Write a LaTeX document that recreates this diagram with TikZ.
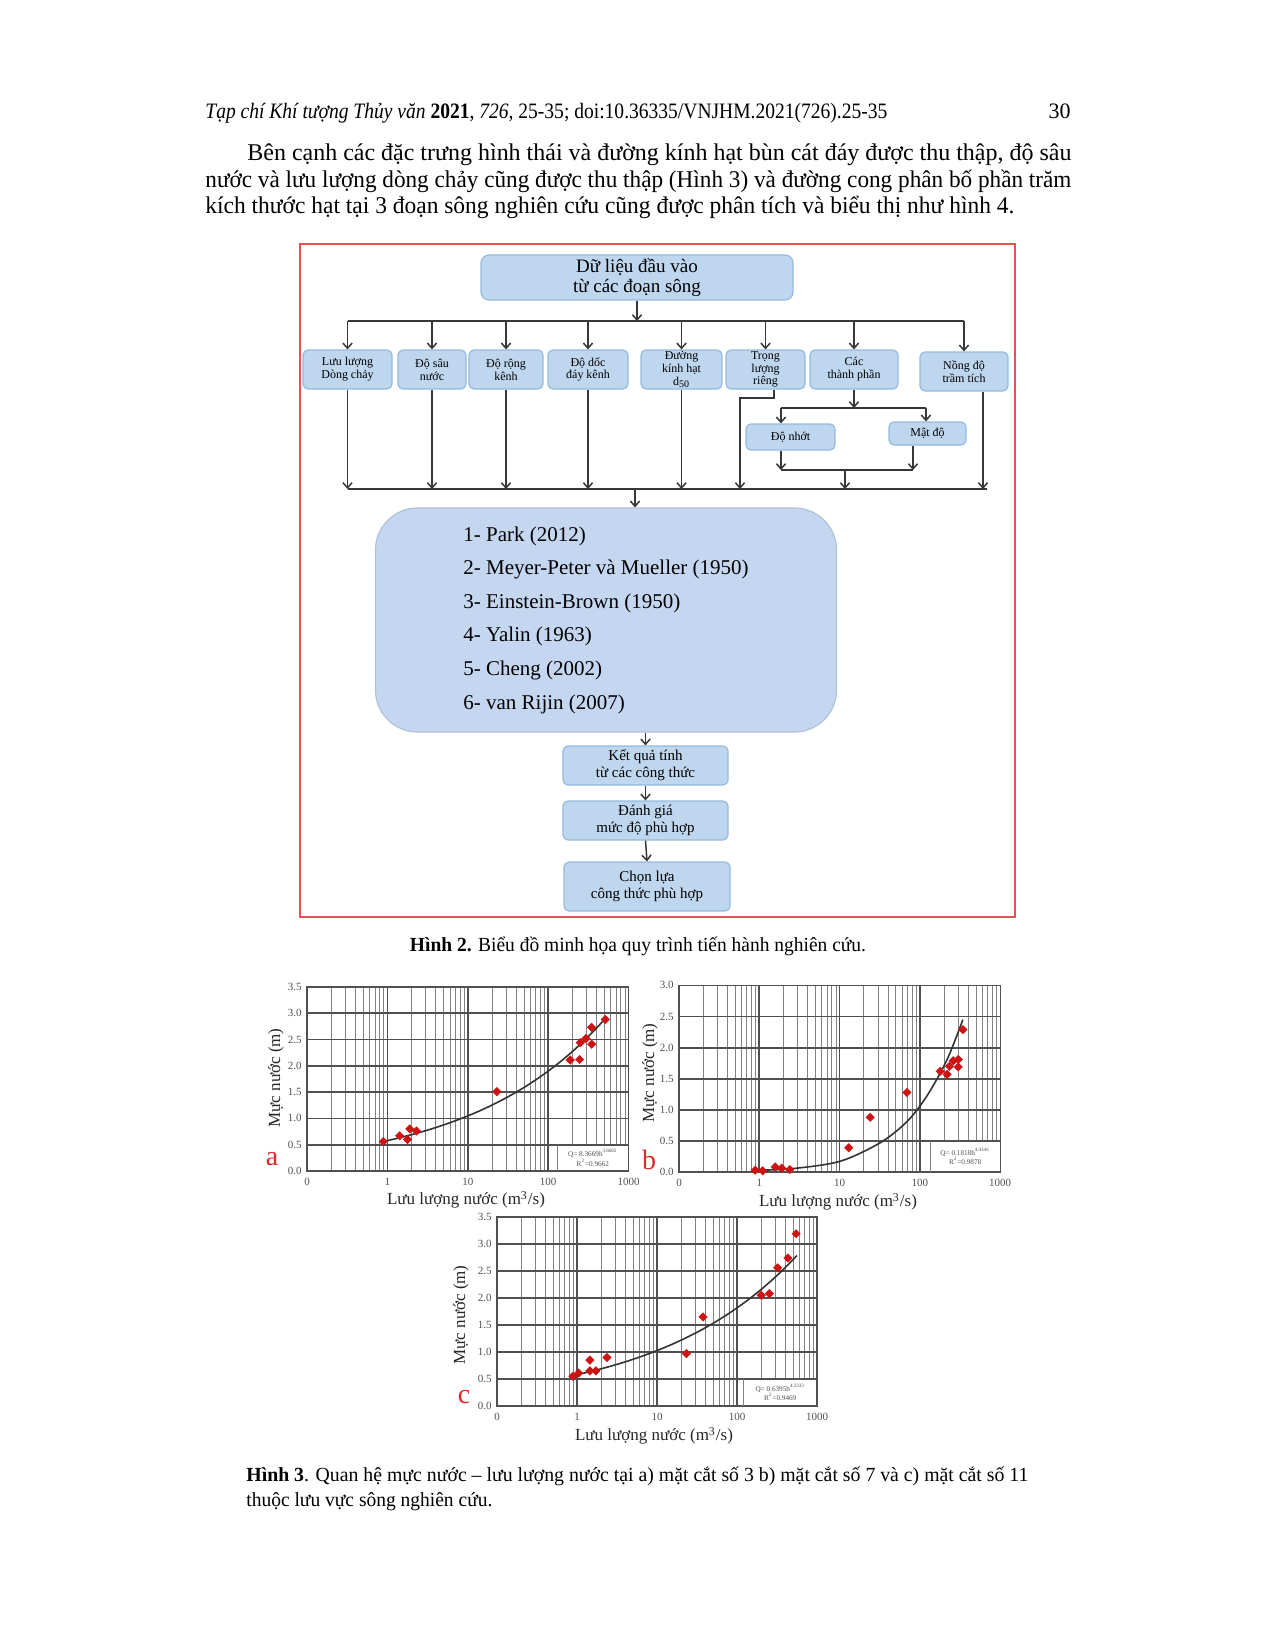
\documentclass[tikz,border=0pt]{standalone}
\usepackage{fontspec}
\setmainfont{Liberation Serif}
\usepackage{graphicx}
\usetikzlibrary{arrows.meta,calc}
\definecolor{boxfill}{RGB}{190,214,238}
\definecolor{boxdraw}{RGB}{150,186,222}
\definecolor{bigfill}{RGB}{197,214,240}
\definecolor{framered}{RGB}{228,82,82}
\definecolor{lineg}{RGB}{55,55,55}
\definecolor{ptred}{RGB}{205,20,20}
\definecolor{gridminor}{RGB}{130,130,130}
\definecolor{gridmajor}{RGB}{80,80,80}
\definecolor{tickgray}{RGB}{80,80,80}
\definecolor{letred}{RGB}{225,40,40}
\tikzset{
 fbox/.style={draw=boxdraw, fill=boxfill, rounded corners=2.5pt, align=center, inner sep=0pt, font=\fontsize{6}{6.4}\selectfont, line width=0.6pt, minimum height=19.5pt},
 ln/.style={draw=lineg, line width=0.75pt},
 arr/.style={ln, -{Straight Barb[length=2.6pt,width=4.6pt]}},
 gminor/.style={draw=gridminor, line width=0.4pt},
 gmajor/.style={draw=gridmajor, line width=0.85pt},
 ghor/.style={draw=gridmajor, line width=0.9pt},
 gframe/.style={draw=gridmajor, line width=0.7pt},
 ticklab/.style={font=\fontsize{5.5}{6}\selectfont, text=tickgray, inner sep=0pt},
 axtitle/.style={font=\fontsize{8.5}{9}\selectfont, text=black!85, inner sep=0pt},
 letlab/.style={font=\fontsize{14}{14}\selectfont, text=letred, inner sep=0pt},
 eqlab/.style={font=\fontsize{3.6}{4.6}\selectfont, text=tickgray, inner sep=0pt, align=center},
 curve/.style={draw=black!80, line width=0.8pt},
 chart/.style n args={4}{shift={({#1*0.5pt},{-#2*0.5pt})},x={({#3*0.5pt},0pt)},y={(0pt,{#4*0.5pt})}},
 txt/.style={inner sep=0pt}
}
% #1 ymax, #2 y labels, #3 name prefix
\newcommand\drawgrid[3]{%
 \foreach \d in {0,1,2,3}{\foreach \m in {2,...,9}{\draw[gminor] ({\d+log10(\m)},0) -- ({\d+log10(\m)},#1);}}
 \foreach \d in {1,2,3}{\draw[gmajor] (\d,0) -- (\d,#1);}
 \foreach \yy [count=\i] in {#2}{\draw[ghor] (0,\yy) -- (4,\yy);}
 \foreach \yy [count=\i] in {0.0,#2}{\node[ticklab,anchor=east,xshift=-2.5pt] (#3y\i) at (0,\yy) {\yy};}
 \draw[gframe] (0,0) rectangle (4,#1);
 \foreach \xx/\t in {0/0,1/1,2/10,3/100,4/1000}{\node[ticklab,anchor=north,yshift=-3.5pt] (#3x\xx) at (\xx,0) {\t};}
}
\newcommand\dmark[2]{\fill[ptred] ({log10(#1)+1},#2) ++(0,2.3pt) -- ++(2.3pt,-2.3pt) -- ++(-2.3pt,-2.3pt) -- ++(-2.3pt,2.3pt) -- cycle;}
\begin{document}
\begin{tikzpicture}[x=0.5pt,y=-0.5pt]
\fill[white] (0,0) rectangle (1274,1649);
\useasboundingbox (0,0) rectangle (1274,1649);
% header
\node[txt,anchor=base west] (hdr) at (205,118) {\resizebox{341pt}{\height}{\fontsize{11}{13}\selectfont\textit{Tạp chí Khí tượng Thủy văn} \textbf{2021}, \textit{726}, 25-35; doi:10.36335/VNJHM.2021(726).25-35}};
\node[txt,anchor=base east] (pg) at (1071,118) {\fontsize{11}{13}\selectfont 30};
% body
\node[txt,anchor=base west] (l1) at (247,160) {\resizebox{412pt}{\height}{\fontsize{12}{14}\selectfont Bên cạnh các đặc trưng hình thái và đường kính hạt bùn cát đáy được thu thập, độ sâu}};
\node[txt,anchor=base west] (l2) at (205,187) {\resizebox{433pt}{\height}{\fontsize{12}{14}\selectfont nước và lưu lượng dòng chảy cũng được thu thập (Hình 3) và đường cong phân bố phần trăm}};
\node[txt,anchor=base west] (l3) at (205,213) {\resizebox{404.5pt}{\height}{\fontsize{12}{14}\selectfont kích thước hạt tại 3 đoạn sông nghiên cứu cũng được phân tích và biểu thị như hình 4.}};
% flowchart frame
\draw[framered, line width=1pt] (300,244) rectangle (1015,917);
\node[fbox, minimum width=156pt, minimum height=22.5pt, rounded corners=4pt, font=\fontsize{9.5}{10}\selectfont] (top) at (637,277.5) {Dữ liệu đầu vào\\từ các đoạn sông};
\node[fbox, minimum width=44.5pt] (b1) at (347.5,369.5) {Lưu lượng\\Dòng chảy};
\node[fbox, minimum width=34pt] (b2) at (432,369.5) {Độ sâu\\nước};
\node[fbox, minimum width=37pt] (b3) at (506,369.5) {Độ rộng\\kênh};
\node[fbox, minimum width=40pt] (b4) at (588,369.5) {Độ dốc\\đáy kênh};
\node[fbox, minimum width=40.5pt] (b5) at (681.5,369.5) {Đường\\kính hạt\\d\textsubscript{50}};
\node[fbox, minimum width=39.5pt] (b6) at (765.5,369.5) {Trọng\\lượng\\riêng};
\node[fbox, minimum width=44pt] (b7) at (854,369.5) {Các\\thành phần};
\node[fbox, minimum width=44pt] (b8) at (964,371.5) {Nồng độ\\trầm tích};
\node[fbox, minimum width=44.5pt, minimum height=13pt] (visc) at (790.5,437) {Độ nhớt};
\node[fbox, minimum width=38.5pt, minimum height=11.5pt] (dens) at (927.5,433.5) {Mật độ};
\node[fbox, fill=bigfill, draw=bigfill!90!black, minimum width=230.5pt, minimum height=112pt, rounded corners=21pt, align=left, font=\fontsize{10.5}{16.8}\selectfont] (big) at (606,620) {1- Park (2012)\\2- Meyer-Peter và Mueller (1950)\\3- Einstein-Brown (1950)\\4- Yalin (1963)\\5- Cheng (2002)\\6- van Rijin (2007)};
\node[fbox, minimum width=82.5pt, font=\fontsize{7.5}{8.4}\selectfont] (kq) at (645.5,765.5) {Kết quả tính\\từ các công thức};
\node[fbox, minimum width=82.5pt, font=\fontsize{7.5}{8.4}\selectfont] (dg) at (645.5,820.5) {Đánh giá\\mức độ phù hợp};
\node[fbox, minimum width=83pt, minimum height=24.5pt, font=\fontsize{7.5}{8.4}\selectfont] (cl) at (647,886.5) {Chọn lựa\\công thức phù hợp};
% connectors
\coordinate (busL) at (347.5,321); \coordinate (busR) at (964,321);
\draw[ln] (busL) -- (busR);
\draw[arr] (top.south) -- (top.south |- busL);
\foreach \n in {b1,b2,b3,b4,b5,b6,b7,b8}{\draw[arr] (\n.north |- busL) -- (\n.north);}
\coordinate (bbL) at (347.5,489); \coordinate (bbR) at (987,489);
\draw[ln] (bbL) -- (bbR);
\foreach \n in {b1,b2,b3,b4,b5}{\draw[arr] (\n.south) -- (\n.south |- bbL);}
\coordinate (b8o) at ($(b8.south)+(19,0)$);
\draw[arr] (b8o) -- (b8o |- bbL);
\coordinate (b6o) at ($(b6.south)+(8.5,0)$);
\coordinate (b6k) at (740,398);
\draw[arr] (b6o) -- (b6o |- b6k) -- (b6k) -- (b6k |- bbL);
\coordinate (sL) at (781,408); \coordinate (sR) at (926,408);
\draw[arr] (b7.south) -- (b7.south |- sL);
\draw[ln] (sL) -- (sR);
\draw[arr] (sL) -- (sL |- visc.north);
\draw[arr] (sR) -- (sR |- dens.north);
\coordinate (jL) at (781,470); \coordinate (jR) at (913,470); \coordinate (jM) at (845,470);
\draw[arr] (jL |- visc.south) -- (jL);
\draw[arr] (jR |- dens.south) -- (jR);
\draw[ln] (jL) -- (jR);
\draw[arr] (jM) -- (jM |- bbL);
\coordinate (bbM) at (635,489);
\draw[arr] (bbM) -- (bbM |- big.north);
\draw[arr] (kq.north |- big.south) -- (kq.north);
\draw[arr] (kq.south) -- (dg.north);
\draw[arr] (dg.south) -- (cl.north);
% caption 2
\node[txt] (cap2) at (638,946) {\resizebox{228pt}{\height}{\fontsize{10}{12}\selectfont\textbf{Hình 2.} Biểu đồ minh họa quy trình tiến hành nghiên cứu.}};
% chart a
\begin{scope}[chart={307}{1171}{80.4}{52.6}]
 \drawgrid{3.5}{0.5,1.0,1.5,2.0,2.5,3.0,3.5}{a}
 \fill[white] (3.11,0.02) rectangle (3.99,0.48);
 \draw[gminor] (3.11,0) -- (3.11,0.5);
 \node[eqlab] (aeq) at (3.555,0.25) {Q= 8.3669h\textsuperscript{3.8682}\\R\textsuperscript{2}=0.9662};
 \draw[curve] plot[domain=0.954:3.678, samples=50] (\x,{0.578*exp(0.595*(\x-1))});
 \foreach \q/\h in {0.89/0.56,1.42/0.67,1.78/0.60,1.9/0.80,2.3/0.76,23/1.51,188/2.11,246/2.12,251/2.44,295/2.52,347/2.41,347/2.73,513/2.88}{\dmark{\q}{\h}}
\end{scope}
\node[axtitle, rotate=90] (aty) at (276,1078) {Mực nước (m)};
\node[axtitle] (atx) at (466,1200) {Lưu lượng nước (m\textsuperscript{3}/s)};
\node[letlab] (alab) at (272,1159) {a};
% chart b
\begin{scope}[chart={679}{1172}{80.3}{62.2}]
 \drawgrid{3.0}{0.5,1.0,1.5,2.0,2.5,3.0}{b}
 \fill[white] (3.126,0.02) rectangle (3.99,0.48);
 \draw[gminor] (3.126,0) -- (3.126,0.5);
 \node[eqlab] (beq) at (3.563,0.25) {Q= 0.1818h\textsuperscript{4.4346}\\R\textsuperscript{2}=0.9878};
 \draw[curve] plot[smooth] coordinates {(0.954,0.03) (1.380,0.05) (2,0.17) (2.505,0.47) (2.839,0.81) (3.086,1.22) (3.336,1.8) (3.535,2.45)};
 \foreach \q/\h in {0.89/0.03,1.1/0.02,1.58/0.08,1.9/0.06,2.4/0.04,13/0.39,24/0.88,69/1.28,179/1.62,218/1.57,233/1.7,260/1.79,300/1.81,300/1.69,343/2.29}{\dmark{\q}{\h}}
\end{scope}
\node[axtitle, rotate=90] (bty) at (650,1073) {Mực nước (m)};
\node[axtitle] (btx) at (838,1202) {Lưu lượng nước (m\textsuperscript{3}/s)};
\node[letlab] (blab) at (649,1160) {b};
% chart c
\begin{scope}[chart={497}{1406}{80}{54}]
 \drawgrid{3.5}{0.5,1.0,1.5,2.0,2.5,3.0,3.5}{c}
 \fill[white] (3.075,0.02) rectangle (3.99,0.48);
 \draw[gminor] (3.075,0) -- (3.075,0.5);
 \node[eqlab] (ceq) at (3.54,0.25) {Q= 0.6395h\textsuperscript{4.2333}\\R\textsuperscript{2}=0.9469};
 \draw[curve] plot[domain=0.968:3.75, samples=50] (\x,{0.58*exp(0.571*(\x-1))});
 \foreach \q/\h in {0.89/0.55,1.05/0.61,1.45/0.85,1.45/0.65,1.72/0.65,2.37/0.9,23.3/0.97,37.6/1.65,201/2.05,254/2.08,322/2.56,433/2.74,548/3.19}{\dmark{\q}{\h}}
\end{scope}
\node[axtitle, rotate=90] (cty) at (461,1315) {Mực nước (m)};
\node[axtitle] (ctx) at (654,1436) {Lưu lượng nước (m\textsuperscript{3}/s)};
\node[letlab] (clab) at (464,1397) {c};
% caption 3
\node[txt,anchor=base west] (cap3a) at (246,1481) {\resizebox{391pt}{\height}{\fontsize{10}{12}\selectfont\textbf{Hình 3}. Quan hệ mực nước – lưu lượng nước tại a) mặt cắt số 3 b) mặt cắt số 7 và c) mặt cắt số 11}};
\node[txt,anchor=base west] (cap3b) at (246,1506) {\resizebox{123pt}{\height}{\fontsize{10}{12}\selectfont thuộc lưu vực sông nghiên cứu.}};
\end{tikzpicture}
\end{document}
